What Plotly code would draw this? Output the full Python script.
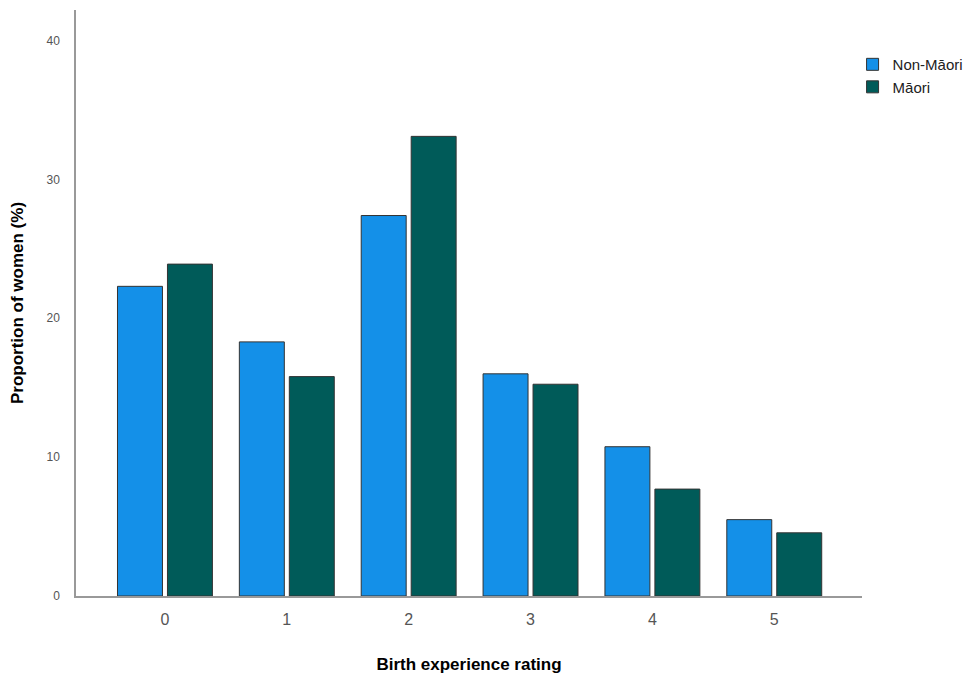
import plotly.graph_objects as go

categories = ["0", "1", "2", "3", "4", "5"]
non_maori = [22.3, 18.3, 27.4, 16.0, 10.75, 5.5]
maori = [23.9, 15.8, 33.1, 15.25, 7.7, 4.55]
y_ticks = [0, 10, 20, 30, 40]

fig = go.Figure()
fig.add_trace(go.Bar(x=categories, y=non_maori, name="Non-Māori",
                     marker=dict(color="#1490E8", line=dict(color="#333333", width=1))))
fig.add_trace(go.Bar(x=categories, y=maori, name="Māori",
                     marker=dict(color="#005B59", line=dict(color="#333333", width=1))))

# page body adds an 8px offset; figure is sized to fit the window
fig.update_layout(
    width=965, height=666,
    margin=dict(l=68, r=111, t=2, b=78),
    paper_bgcolor="white", plot_bgcolor="white",
    barmode="group", bargap=0.18, bargroupgap=0.1,
    font=dict(family="Arial, Liberation Sans, sans-serif", color="#000000"),
    legend=dict(x=0.988, y=0.935, xanchor="left", yanchor="top",
                font=dict(size=15, color="#222222"), tracegroupgap=2,
                itemwidth=30),
    xaxis=dict(
        title=dict(text="<b>Birth experience rating</b>", font=dict(size=17, color="#000000"), standoff=32),
        showline=True, linecolor="#999999", linewidth=1.5,
        ticks="", tickfont=dict(size=16, color="#555555"), ticklabelstandoff=8,
        range=[-0.73, 5.72], showgrid=False, zeroline=False, automargin=False,
    ),
    yaxis=dict(
        title=dict(text="<b>Proportion of women (%)</b>", font=dict(size=17, color="#000000"), standoff=27),
        showline=True, linecolor="#999999", linewidth=1.5,
        ticks="", tickvals=y_ticks, tickfont=dict(size=12, color="#555555"), ticklabelstandoff=12,
        range=[0, 42.2], showgrid=False, zeroline=False, automargin=False,
    ),
)

fig.write_html("out.html")
